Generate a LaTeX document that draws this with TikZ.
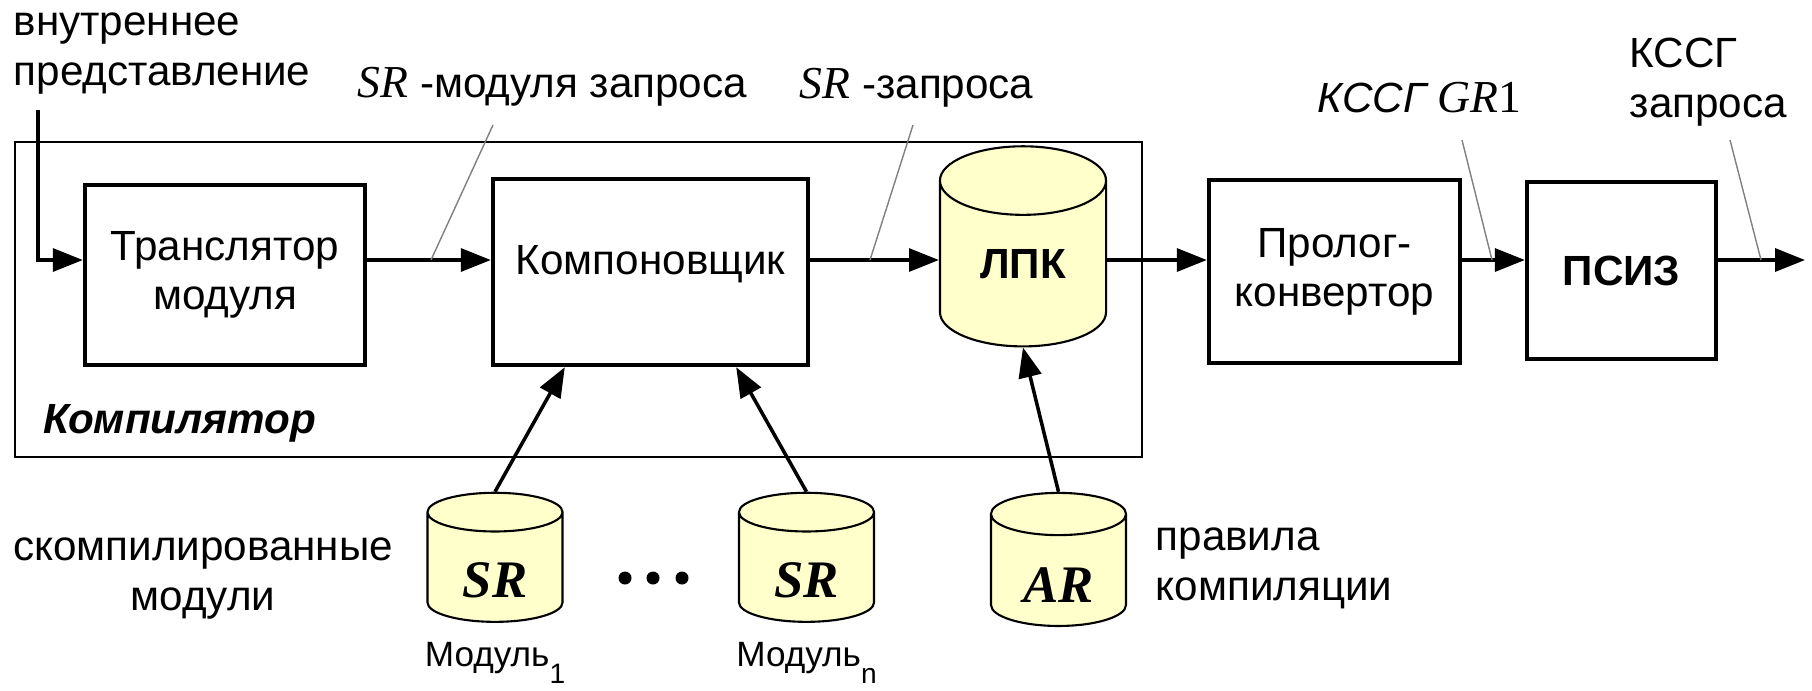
\documentclass[tikz,border=0pt]{standalone}
\usepackage{fontspec}
\setmainfont{Liberation Sans}
\newfontfamily\timesfont{Liberation Serif}
\usetikzlibrary{shapes.geometric,arrows.meta}
\definecolor{dbYellow}{HTML}{FFFFCC}
\definecolor{leaderGray}{HTML}{808080}
\newcommand{\nizhind}[1]{\raisebox{-5pt}{\fontsize{8}{9}\selectfont #1}}

\begin{document}
\begin{tikzpicture}[x=0.01cm, y=-0.01cm,
    font=\fontsize{12}{14}\selectfont,
    blok/.style={draw, line width=1.2pt, fill=white, align=center, inner sep=0pt},
    baza/.style={cylinder, shape border rotate=90, aspect=0.8, draw, line width=0.6pt, fill=dbYellow, inner sep=0pt},
    strelka/.style={line width=1pt, -{Triangle[length=8.5pt, width=6.5pt]}},
    vynoska/.style={leaderGray, line width=0.4pt},
    nadpis/.style={inner sep=0pt, align=left}]
  \useasboundingbox (0,0) rectangle (1812,690);
  \draw[line width=0.6pt] (15,142) rectangle (1142,457);
  \node[nadpis, anchor=base west, font=\fontsize{12}{14}\selectfont\bfseries\itshape] (komplbl) at (43,433) {Компилятор};

  \node[blok, minimum width=2.80cm, minimum height=1.80cm] (tr) at (225,275) {Транслятор\\модуля};
  \node[blok, minimum width=3.15cm, minimum height=1.86cm, text depth=7pt] (komp) at (650.5,272) {Компоновщик};
  \node[baza, minimum width=1.66cm, minimum height=2.00cm, font=\fontsize{12}{14}\selectfont\bfseries] (lpk) at (1023,264) {ЛПК};
  \node[blok, minimum width=2.51cm, minimum height=1.83cm] (prol) at (1334.5,271.5) {Пролог-\\конвертор};
  \node[blok, minimum width=1.89cm, minimum height=1.77cm, font=\fontsize{12}{14}\selectfont\bfseries] (psiz) at (1621.5,270.5) {ПСИЗ};

  \node[baza, aspect=0.6, minimum width=1.35cm, minimum height=1.29cm, text height=17pt, text depth=0pt, font=\fontsize{15}{17}\selectfont\timesfont\bfseries\itshape] (sr1) at (495,567.5) {SR};
  \node[baza, aspect=0.6, minimum width=1.35cm, minimum height=1.29cm, text height=17pt, text depth=0pt, font=\fontsize{15}{17}\selectfont\timesfont\bfseries\itshape] (srn) at (806.5,567.5) {SR};
  \node[baza, aspect=0.6, minimum width=1.35cm, minimum height=1.33cm, text height=18pt, text depth=0pt, font=\fontsize{15}{17}\selectfont\timesfont\bfseries\itshape] (ar) at (1058.5,570.5) {AR};
  \foreach \x in {625,653,682}
    \fill (\x,578) circle (0.065cm);

  \node[nadpis, anchor=base west] (vnutr) at (13,85) {внутреннее\\представление};
  \node[nadpis, anchor=base west] (srmod) at (357,97) {{\timesfont\itshape\fontsize{13}{14}\selectfont SR} -модуля запроса};
  \node[nadpis, anchor=base west] (srzap) at (799,98) {{\timesfont\itshape\fontsize{13}{14}\selectfont SR} -запроса};
  \node[nadpis, anchor=base west] (kssg1) at (1317,112) {\itshape КССГ {\timesfont\fontsize{13}{14}\selectfont GR\upshape 1}};
  \node[nadpis, anchor=base west] (kssg2) at (1629,117) {КССГ\\запроса};
  \node[nadpis, anchor=base, align=center] (skomp) at (203,610) {скомпилированные\\модули};
  \node[nadpis, anchor=base west] (pravila) at (1155,600) {правила\\компиляции};
  \node[inner sep=0pt, anchor=base, font=\fontsize{10}{12}\selectfont] (mod1) at (495,666) {Модуль\nizhind{1}};
  \node[inner sep=0pt, anchor=base, font=\fontsize{10}{12}\selectfont] (modn) at (806.5,666) {Модуль\nizhind{n}};

  \coordinate (row) at (0,260);
  \coordinate (vhod) at (38,110);
  \coordinate (vyhod) at (1805,260);
  \draw[strelka] (vhod) |- (tr.west |- row);
  \draw[strelka] (tr.east |- row) -- (komp.west |- row);
  \draw[strelka] (komp.east |- row) -- (lpk.west |- row);
  \draw[strelka] (lpk.east |- row) -- (prol.west |- row);
  \draw[strelka] (prol.east |- row) -- (psiz.west |- row);
  \draw[strelka] (psiz.east |- row) -- (vyhod);

  \draw[strelka] (sr1.north) -- (komp.228);
  \draw[strelka] (srn.north) -- (komp.312);
  \draw[strelka] (ar.north) -- (lpk.south);

  \coordinate (l1) at (493,125);
  \coordinate (p1) at (431,260);
  \coordinate (l2) at (913,125);
  \coordinate (p2) at (870,260);
  \coordinate (l3) at (1462,140);
  \coordinate (p3) at (1492,260);
  \coordinate (l4) at (1730,140);
  \coordinate (p4) at (1761,260);
  \draw[vynoska] (l1) -- (p1);
  \draw[vynoska] (l2) -- (p2);
  \draw[vynoska] (l3) -- (p3);
  \draw[vynoska] (l4) -- (p4);
\end{tikzpicture}
\end{document}
